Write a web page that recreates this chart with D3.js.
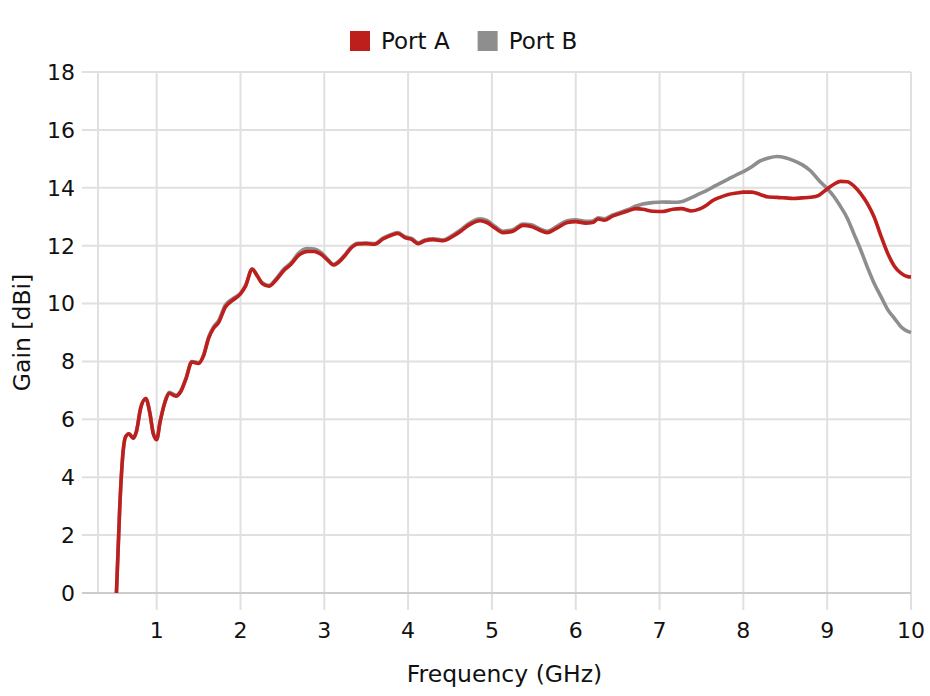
<!DOCTYPE html>
<html>
<head>
<meta charset="utf-8">
<style>
    body { margin: 0; background: #fff; }
    svg text { font-family: "DejaVu Sans", sans-serif; fill: #111; }
</style>
</head>
<body>
<svg width="930" height="696"></svg>
<script src="https://cdn.jsdelivr.net/npm/d3@7"></script>
<script>
    // frequencies (GHz) shared by both ports
    var freq = [0.52, 0.56, 0.60, 0.63, 0.67, 0.72, 0.76, 0.81, 0.87, 0.92, 0.96, 1.00, 1.04, 1.10, 1.15, 1.23, 1.29, 1.35,
        1.42, 1.50, 1.56, 1.62, 1.68, 1.74, 1.82, 1.90, 2.00, 2.06, 2.14, 2.20, 2.26, 2.34, 2.42, 2.52, 2.60, 2.70,
        2.80, 2.88, 2.96, 3.04, 3.11, 3.18, 3.25, 3.32, 3.40, 3.50, 3.60, 3.70, 3.80, 3.88, 3.96, 4.04, 4.12, 4.20,
        4.30, 4.42, 4.52, 4.62, 4.72, 4.86, 4.94, 5.04, 5.13, 5.25, 5.37, 5.47, 5.56, 5.66, 5.77, 5.90, 6.00, 6.12,
        6.20, 6.27, 6.34, 6.44, 6.52, 6.62, 6.72, 6.80, 6.92, 7.04, 7.16, 7.26, 7.38, 7.48, 7.56, 7.64, 7.72, 7.82,
        7.92, 8.00, 8.10, 8.20, 8.30, 8.40, 8.50, 8.60, 8.70, 8.80, 8.90, 9.00, 9.08, 9.16, 9.24, 9.32, 9.40, 9.48,
        9.56, 9.64, 9.72, 9.80, 9.88, 9.96, 10.0];

    var portA = [0, 3.0, 4.9, 5.4, 5.5, 5.35, 5.6, 6.4, 6.72, 6.2, 5.5, 5.3, 5.9, 6.6, 6.9, 6.8, 6.97, 7.4,
        7.98, 7.93, 8.2, 8.8, 9.15, 9.35, 9.88, 10.1, 10.33, 10.6, 11.18, 10.95, 10.69, 10.6, 10.8, 11.15, 11.35, 11.68,
        11.8, 11.8, 11.7, 11.5, 11.33, 11.45, 11.67, 11.92, 12.06, 12.07, 12.05, 12.23, 12.36, 12.42, 12.28, 12.22, 12.07, 12.17,
        12.21, 12.17, 12.3, 12.48, 12.7, 12.86, 12.8, 12.6, 12.45, 12.5, 12.7, 12.66, 12.55, 12.45, 12.6, 12.8, 12.83, 12.78,
        12.8, 12.92, 12.88, 13.02, 13.1, 13.2, 13.28, 13.26, 13.19, 13.18, 13.26, 13.28, 13.2, 13.27, 13.4, 13.57, 13.67, 13.77,
        13.82, 13.85, 13.85, 13.77, 13.68, 13.67, 13.65, 13.63, 13.65, 13.67, 13.74, 13.96, 14.12, 14.22, 14.21, 14.06, 13.8, 13.45,
        12.99, 12.35, 11.75, 11.3, 11.05, 10.93, 10.92];

    var portB = [0, 3.0, 4.9, 5.4, 5.5, 5.35, 5.6, 6.4, 6.72, 6.2, 5.5, 5.3, 5.9, 6.62, 6.93, 6.83, 7.0, 7.43,
        8.0, 7.96, 8.23, 8.85, 9.2, 9.42, 9.95, 10.15, 10.36, 10.62, 11.2, 10.97, 10.72, 10.63, 10.84, 11.2, 11.4, 11.76,
        11.9, 11.88, 11.77, 11.53, 11.36, 11.48, 11.7, 11.95, 12.08, 12.09, 12.07, 12.26, 12.39, 12.45, 12.31, 12.25, 12.1, 12.2,
        12.24, 12.2, 12.34, 12.53, 12.76, 12.93, 12.87, 12.66, 12.5, 12.55, 12.75, 12.72, 12.6, 12.5, 12.66, 12.86, 12.89, 12.84,
        12.85, 12.96, 12.93, 13.06, 13.14, 13.24, 13.37, 13.44, 13.49, 13.51, 13.5, 13.52, 13.66, 13.8, 13.9, 14.03, 14.15, 14.3,
        14.45, 14.56, 14.73, 14.93, 15.03, 15.08, 15.04, 14.94, 14.8, 14.59, 14.26, 13.97, 13.7, 13.35, 12.95, 12.4, 11.85, 11.25,
        10.7, 10.25, 9.8, 9.5, 9.2, 9.04, 9.0];

    var xTicks = [1, 2, 3, 4, 5, 6, 7, 8, 9, 10];
    var yTicks = [0, 2, 4, 6, 8, 10, 12, 14, 16, 18];
    var seriesNames = ["Port A", "Port B"];
    var seriesColors = ["#bd201c", "#8e8e8e"];

    var svg = d3.select("svg"),
        margin = { top: 72, right: 19, bottom: 103, left: 98 },
        width = +svg.attr("width") - margin.left - margin.right,
        height = +svg.attr("height") - margin.top - margin.bottom;

    var x = d3.scaleLinear().domain([0.3, 10]).range([0, width]);
    var y = d3.scaleLinear().domain([0, 18]).range([height, 0]);

    var g = svg.append("g")
        .attr("transform", "translate(" + margin.left + "," + margin.top + ")");

    // vertical grid (x ticks reach 17px below the plot)
    g.append("g")
        .selectAll("line")
        .data([0.3].concat(xTicks))
        .enter()
        .append("line")
        .attr("x1", function (d) { return x(d); })
        .attr("x2", function (d) { return x(d); })
        .attr("y1", 0)
        .attr("y2", function (d) { return d === 0.3 ? height : height + 17; })
        .attr("stroke", "#e0e0e0")
        .attr("stroke-width", 2);

    // horizontal grid (y ticks reach 16px left of the plot)
    g.append("g")
        .selectAll("line")
        .data(yTicks)
        .enter()
        .append("line")
        .attr("x1", -16)
        .attr("x2", width)
        .attr("y1", function (d) { return y(d); })
        .attr("y2", function (d) { return y(d); })
        .attr("stroke", function (d) { return d === 0 ? "#cccccc" : "#e0e0e0"; })
        .attr("stroke-width", 2);

    g.append("g")
        .selectAll("text")
        .data(yTicks)
        .enter()
        .append("text")
        .attr("x", -23)
        .attr("y", function (d) { return y(d); })
        .attr("dy", "0.36em")
        .attr("text-anchor", "end")
        .style("font-size", "22px")
        .text(function (d) { return d; });

    g.append("g")
        .selectAll("text")
        .data(xTicks)
        .enter()
        .append("text")
        .attr("x", function (d) { return x(d); })
        .attr("y", height + 45)
        .attr("text-anchor", "middle")
        .style("font-size", "22px")
        .text(function (d) { return d; });

    var line = d3.line()
        .x(function (d) { return x(d[0]); })
        .y(function (d) { return y(d[1]); })
        .curve(d3.curveMonotoneX);

    var series = [portA, portB];
    [1, 0].forEach(function (i) {
        g.append("path")
            .datum(freq.map(function (f, k) { return [f, series[i][k]]; }))
            .attr("fill", "none")
            .attr("stroke", seriesColors[i])
            .attr("stroke-width", 3.6)
            .attr("stroke-linejoin", "round")
            .attr("stroke-linecap", "butt")
            .attr("d", line);
    });

    // axis titles
    svg.append("text")
        .attr("x", margin.left + width / 2)
        .attr("y", 682)
        .attr("text-anchor", "middle")
        .style("font-size", "23.5px")
        .text("Frequency (GHz)");

    svg.append("text")
        .attr("transform", "translate(30," + (margin.top + height / 2) + ") rotate(-90)")
        .attr("text-anchor", "middle")
        .style("font-size", "23.5px")
        .text("Gain [dBi]");

    // legend
    var legend = svg.append("g");
    var lx = 350;
    seriesNames.forEach(function (name, i) {
        var item = legend.append("g").attr("transform", "translate(" + lx + ",31)");
        item.append("rect").attr("width", 20).attr("height", 20).attr("fill", seriesColors[i]);
        var t = item.append("text").attr("x", 31).attr("y", 18).style("font-size", "23px").text(name);
        lx += 31 + t.node().getComputedTextLength() + 28;
    });
</script>
</body>
</html>
